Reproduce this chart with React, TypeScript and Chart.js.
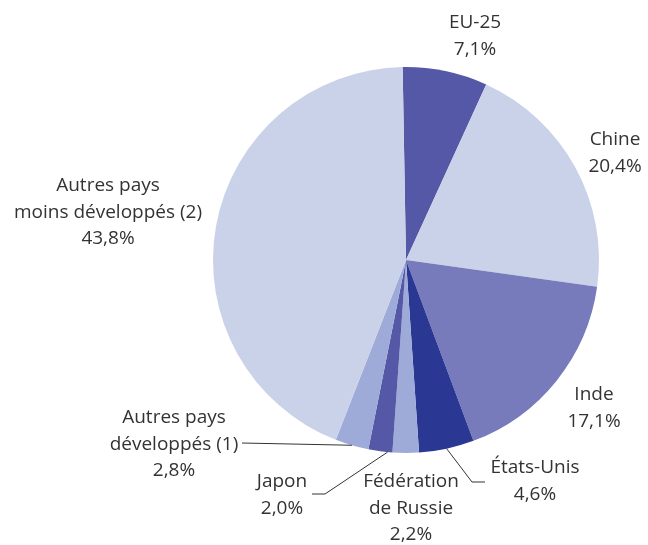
import React, { useEffect, useRef } from "react";
import { Chart, registerables } from "chart.js";

Chart.register(...registerables);

const categories = [
  "EU-25",
  "Chine",
  "Inde",
  "États-Unis",
  "Fédération de Russie",
  "Japon",
  "Autres pays développés (1)",
  "Autres pays moins développés (2)",
];
const shares = [7.1, 20.4, 17.1, 4.6, 2.2, 2.0, 2.8, 43.8];
const labelLines = [
  ["EU-25"],
  ["Chine"],
  ["Inde"],
  ["États-Unis"],
  ["Fédération", "de Russie"],
  ["Japon"],
  ["Autres pays", "développés (1)"],
  ["Autres pays", "moins développés (2)"],
];
const colors = [
  "#5558a6",
  "#c9d2e8",
  "#777bbb",
  "#2b3893",
  "#9eaad8",
  "#5558a6",
  "#9eaad8",
  "#c9d2e8",
];

// layout of labels relative to pie centre (pixels)
const labelLayout: { dx: number; dy: number; anchor?: number; leader?: number[][] }[] = [
  { dx: 69, dy: -237 },
  { dx: 209, dy: -120 },
  { dx: 188, dy: 135 },
  { dx: 129, dy: 208, anchor: 0.5, leader: [[66, 222], [79, 222]] },
  { dx: 5, dy: 222 },
  { dx: -124, dy: 222, anchor: 0.2, leader: [[-81, 234], [-94, 234]] },
  { dx: -232, dy: 158, anchor: 0.5, leader: [[-164, 183]] },
  { dx: -298, dy: -74 },
];

const fmt = (v: number) => v.toFixed(1).replace(".", ",") + "%";

const labelPlugin = {
  id: "pieLabels",
  afterDraw(chart: any) {
    const ctx = chart.ctx;
    const meta = chart.getDatasetMeta(0);
    ctx.save();
    ctx.font = '19px "Open Sans"';
    ctx.fillStyle = "#333333";
    ctx.strokeStyle = "#333333";
    ctx.lineWidth = 1;
    ctx.textAlign = "center";
    ctx.textBaseline = "middle";
    const lineH = 26.5;
    meta.data.forEach((arc: any, i: number) => {
      const p = arc.getProps(["x", "y", "startAngle", "endAngle", "outerRadius"], true);
      const cx = p.x;
      const cy = p.y;
      const lay = labelLayout[i];
      const lines = [...labelLines[i], fmt(shares[i])];
      lines.forEach((t, k) => {
        ctx.fillText(t, cx + lay.dx, cy + lay.dy + k * lineH);
      });
      if (lay.leader) {
        const f = lay.anchor ?? 0.5;
        const a = p.startAngle + (p.endAngle - p.startAngle) * f;
        const sx = cx + Math.cos(a) * p.outerRadius;
        const sy = cy + Math.sin(a) * p.outerRadius;
        ctx.beginPath();
        ctx.moveTo(sx, sy);
        lay.leader.forEach(([x, y]) => ctx.lineTo(cx + x, cy + y));
        ctx.stroke();
      }
    });
    ctx.restore();
  },
};

export default function App() {
  const ref = useRef<HTMLCanvasElement>(null);
  useEffect(() => {
    if (!ref.current) return;
    const chart = new Chart(ref.current, {
      type: "pie",
      data: {
        labels: categories,
        datasets: [
          {
            data: shares,
            backgroundColor: colors,
            borderWidth: 0,
          },
        ],
      },
      options: {
        responsive: false,
        animation: false,
        rotation: -1,
        layout: { padding: { left: 213, right: 49, top: 67, bottom: 92 } },
        plugins: {
          legend: { display: false },
          tooltip: { enabled: false },
        },
      },
      plugins: [labelPlugin],
    });
    return () => chart.destroy();
  }, []);
  return (
    <div style={{ position: "fixed", left: 0, top: 0, width: 648, height: 545, background: "#fff" }}>
      <canvas ref={ref} width={648} height={545} />
    </div>
  );
}
